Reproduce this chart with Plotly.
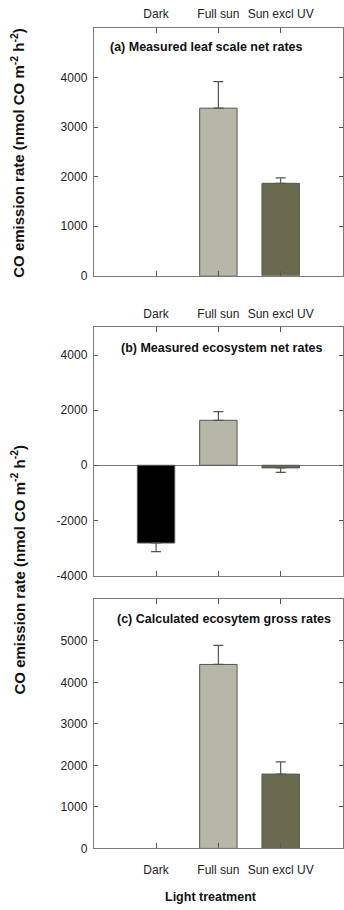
import plotly.graph_objects as go

categories = ["Dark", "Full sun", "Sun excl UV"]
bar_colors = ["#000000", "#b6b7a8", "#6b6a4f"]

# (a) Measured leaf scale net rates
a_values = [None, 3380, 1865]
a_err_up = [0, 535, 110]
a_err_down = [0, 0, 0]

# (b) Measured ecosystem net rates
b_values = [-2820, 1632, -95]
b_err_up = [0, 314, 0]
b_err_down = [315, 0, 165]

# (c) Calculated ecosystem gross rates
c_values = [None, 4432, 1790]
c_err_up = [0, 461, 296]
c_err_down = [0, 0, 0]

panel_titles = ["(a) Measured leaf scale net rates",
                "(b) Measured ecosystem net rates",
                "(c) Calculated ecosytem gross rates"]
y_title = "CO emission rate (nmol CO m<sup>-2</sup> h<sup>-2</sup>)"
x_title = "Light treatment"

a_ticks = [0, 1000, 2000, 3000, 4000]
b_ticks = [-4000, -2000, 0, 2000, 4000]
c_ticks = [0, 1000, 2000, 3000, 4000, 5000]

W, H = 344, 910
FONT = "Liberation Sans, Arial, sans-serif"
AX = "#7a7a7a"

def py(px):
    return 1 - px / H

fig = go.Figure()
panels = [
    (a_values, a_err_up, a_err_down, "x", "y"),
    (b_values, b_err_up, b_err_down, "x2", "y2"),
    (c_values, c_err_up, c_err_down, "x3", "y3"),
]
for vals, eu, ed, xa, ya in panels:
    fig.add_trace(go.Bar(
        x=[0, 1, 2], y=vals, width=0.6,
        marker=dict(color=bar_colors, line=dict(color="#555555", width=1)),
        error_y=dict(type="data", symmetric=False, array=eu, arrayminus=ed,
                     color="#555555", thickness=1.2, width=5),
        xaxis=xa, yaxis=ya, showlegend=False,
    ))

domains = [(py(278), py(28)), (py(580), py(330)), (py(855), py(604))]
ranges = [(0, 5000), (-4000, 5000), (0, 6000)]
yticks = [a_ticks, b_ticks, c_ticks]
sides = ["top", "top", "bottom"]
standoffs = [4, 4, 10]

xcommon = dict(range=[-1, 3], tickvals=[0, 1, 2], ticktext=categories,
               showline=True, linecolor=AX, linewidth=1, mirror="ticks",
               ticks="inside", ticklen=5, tickcolor="#555", showgrid=False,
               zeroline=False, tickfont=dict(family=FONT, size=12, color="#222"),
               domain=[94 / W, 1])
ycommon = dict(showline=True, linecolor=AX, linewidth=1, mirror="ticks",
               ticks="inside", ticklen=4, tickcolor="#555", showgrid=False,
               tickfont=dict(family=FONT, size=12, color="#222"))

layout = dict(width=W, height=H, margin=dict(l=0, r=0, t=0, b=0),
              paper_bgcolor="white", plot_bgcolor="white", bargap=0.4,
              font=dict(family=FONT))
names = ["", "2", "3"]
for i in range(3):
    n = names[i]
    layout["xaxis" + n] = dict(xcommon, side=sides[i], anchor="y" + n,
                               ticklabelstandoff=standoffs[i])
    layout["yaxis" + n] = dict(ycommon, domain=list(domains[i]),
                               range=list(ranges[i]), tickvals=yticks[i],
                               ticktext=[str(v) for v in yticks[i]],
                               anchor="x" + n,
                               zeroline=(i == 1), zerolinecolor=AX,
                               zerolinewidth=1, ticklabelstandoff=3)
fig.update_layout(**layout)

# panel titles
title_pos = [(108, 47), (119, 351), (115, 624)]
for t, (xp, yp) in zip(panel_titles, title_pos):
    fig.add_annotation(text="<b>%s</b>" % t, xref="paper", yref="paper",
                       x=xp / W, y=py(yp), xanchor="left", yanchor="middle",
                       showarrow=False, font=dict(family=FONT, size=12.5, color="#111"))

# y-axis titles
for yc in [154, 574]:
    fig.add_annotation(text="<b>%s</b>" % y_title, xref="paper", yref="paper",
                       x=18 / W, y=py(yc), xanchor="center", yanchor="middle",
                       textangle=-90, showarrow=False,
                       font=dict(family=FONT, size=15, color="#111"))

fig.add_annotation(text="<b>%s</b>" % x_title, xref="paper", yref="paper",
                   x=212 / W, y=py(904), xanchor="center", yanchor="middle",
                   showarrow=False, font=dict(family=FONT, size=12.5, color="#111"))

fig.write_html("out.html")
